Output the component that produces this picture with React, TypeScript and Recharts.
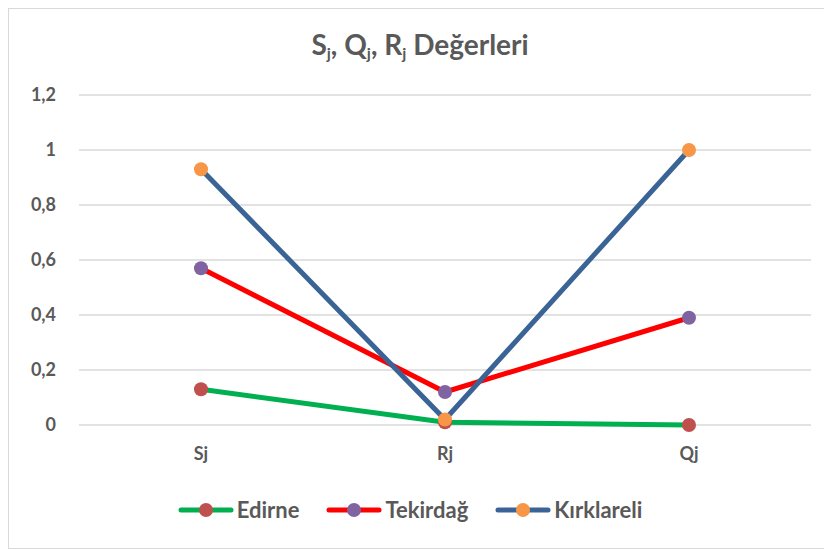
import { LineChart, Line, XAxis, YAxis, CartesianGrid, Legend } from "recharts";

const categories = ["Sj", "Rj", "Qj"];
const edirne = [0.13, 0.01, 0];
const tekirdag = [0.57, 0.12, 0.39];
const kirklareli = [0.93, 0.02, 1];
const yTicks = [0, 0.2, 0.4, 0.6, 0.8, 1, 1.2];

const series = [
  { key: "Edirne", line: "#00b050", dot: "#c0504d" },
  { key: "Tekirdağ", line: "#ff0000", dot: "#8064a2" },
  { key: "Kırklareli", line: "#3a6496", dot: "#f79646" },
];

const data = categories.map((c, i) => ({
  name: c,
  Edirne: edirne[i],
  Tekirdağ: tekirdag[i],
  Kırklareli: kirklareli[i],
}));

const FONT = "Lato, 'Open Sans', sans-serif";
const TEXT = "#595959";

function renderLegend() {
  return (
    <div style={{ display: "flex", justifyContent: "center", alignItems: "center", gap: 27 }}>
      {series.map((s) => (
        <div key={s.key} style={{ display: "flex", alignItems: "center", gap: 3 }}>
          <svg width={56} height={16}>
            <line x1={3} y1={8} x2={53} y2={8} stroke={s.line} strokeWidth={5} strokeLinecap="round" />
            <circle cx={28} cy={8} r={7} fill={s.dot} />
          </svg>
          <span style={{ fontFamily: FONT, fontWeight: 700, fontSize: 22, color: TEXT }}>{s.key}</span>
        </div>
      ))}
    </div>
  );
}

const subStyle = { fontSize: 16, verticalAlign: "-4px" };

export default function App() {
  return (
    <div
      style={{
        position: "relative",
        width: 822,
        height: 539,
        border: "1px solid #d9d9d9",
        background: "#fff",
      }}
    >
      <div
        style={{
          position: "absolute",
          top: 18,
          left: 0,
          width: "100%",
          textAlign: "center",
          fontFamily: FONT,
          fontWeight: 700,
          fontSize: 28,
          color: TEXT,
        }}
      >
        S<sub style={subStyle}>j</sub>, Q<sub style={subStyle}>j</sub>, R<sub style={subStyle}>j</sub> Değerleri
      </div>
      <LineChart
        width={822}
        height={539}
        data={data}
        margin={{ top: 86, right: 20, left: 0, bottom: 12 }}
      >
        <CartesianGrid vertical={false} stroke="#d9d9d9" strokeWidth={1.5} />
        <XAxis
          dataKey="name"
          axisLine={false}
          tickLine={false}
          height={71}
          tickMargin={16}
          padding={{ left: 122, right: 122 }}
          tick={{ fill: TEXT, fontSize: 18, fontWeight: 700, fontFamily: FONT }}
        />
        <YAxis
          domain={[0, 1.2]}
          ticks={yTicks}
          width={70}
          axisLine={false}
          tickLine={false}
          tickMargin={17}
          tickFormatter={(v: number) => String(v).replace(".", ",")}
          tick={{ fill: TEXT, fontSize: 18, fontWeight: 700, fontFamily: FONT }}
        />
        <Legend verticalAlign="bottom" height={40} content={renderLegend} />
        {series.map((s) => (
          <Line
            key={s.key}
            dataKey={s.key}
            stroke={s.line}
            strokeWidth={5}
            dot={{ r: 7, fill: s.dot, stroke: s.dot, strokeWidth: 0 }}
            isAnimationActive={false}
          />
        ))}
      </LineChart>
    </div>
  );
}
